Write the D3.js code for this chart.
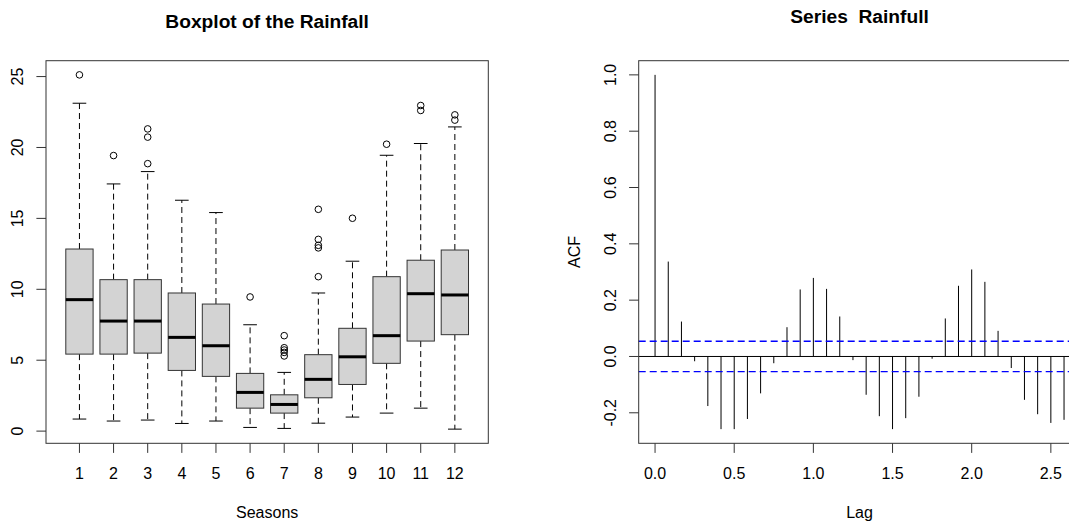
<!DOCTYPE html>
<html>
<head>
<meta charset="utf-8">
<script src="https://cdn.jsdelivr.net/npm/d3@7"></script>
<style>
  html, body { margin: 0; padding: 0; background: #fff; }
  svg { display: block; font-family: "Liberation Sans", Arial, sans-serif; }
</style>
</head>
<body>
<svg id="chart" width="1069" height="523"></svg>
<script>
// ---------- Data: boxplot of rainfall by season ----------
const seasons      = [1, 2, 3, 4, 5, 6, 7, 8, 9, 10, 11, 12];
const whiskerLow   = [0.85, 0.71, 0.78, 0.54, 0.71, 0.26, 0.19, 0.56, 0.99, 1.27, 1.62, 0.14];
const q1           = [5.43, 5.43, 5.50, 4.28, 3.86, 1.62, 1.27, 2.35, 3.29, 4.78, 6.35, 6.80];
const medians      = [9.27, 7.76, 7.76, 6.61, 6.02, 2.73, 1.88, 3.65, 5.24, 6.73, 9.69, 9.60];
const q3           = [12.84, 10.68, 10.68, 9.74, 8.96, 4.07, 2.56, 5.39, 7.25, 10.89, 12.05, 12.77];
const whiskerHigh  = [23.12, 17.43, 18.30, 16.28, 15.41, 7.50, 4.14, 9.74, 11.98, 19.45, 20.28, 21.45];
const outliers     = [
  [25.12],
  [19.43],
  [21.31, 20.73, 18.86],
  [],
  [],
  [9.46],
  [6.73, 5.88, 5.72, 5.55, 5.30],
  [15.64, 13.52, 13.10, 12.92, 10.89],
  [15.01],
  [20.23],
  [22.96, 22.61],
  [22.30, 21.93]
];
const boxYTicks = [0, 5, 10, 15, 20, 25];

// ---------- Data: ACF of rainfall (monthly series, lag in years) ----------
const acfValues = [1.000, 0.337, 0.124, -0.017, -0.176, -0.258, -0.258, -0.222, -0.131, -0.024,
                   0.104, 0.238, 0.279, 0.240, 0.142, -0.013, -0.136, -0.212, -0.258, -0.219,
                   -0.143, -0.008, 0.135, 0.251, 0.309, 0.265, 0.091, -0.041, -0.154, -0.205,
                   -0.236, -0.225];
const acfFrequency = 12;
const acfLags = acfValues.map((v, i) => i / acfFrequency);
const acfCI = 0.054;
const acfXTicks = [0, 0.5, 1.0, 1.5, 2.0, 2.5];
const acfYTicks = [-0.2, 0, 0.2, 0.4, 0.6, 0.8, 1.0];

// ---------- Layout ----------
const svg = d3.select("#chart");
const FS = 16;
const axisCol = "#333";
const plotTop = 60.7, plotBottom = 443.3;

function extend(lo, hi) { const e = (hi - lo) * 0.04; return [lo - e, hi + e]; }

// ================= Left: Boxplot =================
const L = { left: 46, right: 488.3 };
const allVals = whiskerLow.concat(whiskerHigh, outliers.flat());
const xL = d3.scaleLinear().domain(extend(0.5, seasons.length + 0.5)).range([L.left, L.right]);
const yL = d3.scaleLinear().domain(extend(d3.min(allVals), d3.max(allVals))).range([plotBottom, plotTop]);

const gL = svg.append("g");
const boxW = xL(1.4) - xL(1);   // half-width of box (boxwex 0.8)
const capW = boxW / 2;

seasons.forEach((s, i) => {
  const cx = xL(s);
  gL.append("line").attr("x1", cx).attr("x2", cx).attr("y1", yL(q3[i])).attr("y2", yL(whiskerHigh[i]))
    .attr("stroke", "#000").attr("stroke-width", 1).attr("stroke-dasharray", "6,4");
  gL.append("line").attr("x1", cx).attr("x2", cx).attr("y1", yL(q1[i])).attr("y2", yL(whiskerLow[i]))
    .attr("stroke", "#000").attr("stroke-width", 1).attr("stroke-dasharray", "6,4");
  [whiskerHigh[i], whiskerLow[i]].forEach(v => {
    gL.append("line").attr("x1", cx - capW).attr("x2", cx + capW).attr("y1", yL(v)).attr("y2", yL(v))
      .attr("stroke", "#000").attr("stroke-width", 1);
  });
  gL.append("rect").attr("x", cx - boxW).attr("width", 2 * boxW)
    .attr("y", yL(q3[i])).attr("height", yL(q1[i]) - yL(q3[i]))
    .attr("fill", "#d3d3d3").attr("stroke", "#333").attr("stroke-width", 1);
  gL.append("line").attr("x1", cx - boxW).attr("x2", cx + boxW).attr("y1", yL(medians[i])).attr("y2", yL(medians[i]))
    .attr("stroke", "#000").attr("stroke-width", 3);
  outliers[i].forEach(v => {
    gL.append("circle").attr("cx", cx).attr("cy", yL(v)).attr("r", 3.3)
      .attr("fill", "none").attr("stroke", "#000").attr("stroke-width", 1);
  });
});

gL.append("rect").attr("x", L.left).attr("y", plotTop).attr("width", L.right - L.left).attr("height", plotBottom - plotTop)
  .attr("fill", "none").attr("stroke", axisCol).attr("stroke-width", 1);

seasons.forEach(s => {
  gL.append("line").attr("x1", xL(s)).attr("x2", xL(s)).attr("y1", plotBottom).attr("y2", plotBottom + 9.6)
    .attr("stroke", axisCol);
  gL.append("text").attr("x", xL(s)).attr("y", 479).attr("text-anchor", "middle")
    .attr("font-size", FS).text(s);
});
boxYTicks.forEach(t => {
  gL.append("line").attr("x1", L.left).attr("x2", L.left - 9.6).attr("y1", yL(t)).attr("y2", yL(t)).attr("stroke", axisCol);
  gL.append("text").attr("transform", `translate(${L.left - 23},${yL(t)}) rotate(-90)`)
    .attr("text-anchor", "middle").attr("font-size", FS).text(t);
});
gL.append("text").attr("x", (L.left + L.right) / 2).attr("y", 27.5).attr("text-anchor", "middle")
  .attr("font-size", 19.2).attr("font-weight", "bold").text("Boxplot of the Rainfall");
gL.append("text").attr("x", (L.left + L.right) / 2).attr("y", 518.3).attr("text-anchor", "middle")
  .attr("font-size", FS).text("Seasons");

// ================= Right: ACF =================
const R = { left: 638.7 };
const xR = d3.scaleLinear().domain(extend(0, d3.max(acfLags))).range([R.left, 1080.4]);
const yR = d3.scaleLinear().domain(extend(Math.min(d3.min(acfValues), -acfCI), Math.max(d3.max(acfValues), acfCI)))
  .range([plotBottom, plotTop]);
const gR = svg.append("g");
const rRight = xR.range()[1];

gR.append("line").attr("x1", R.left).attr("x2", rRight).attr("y1", yR(0)).attr("y2", yR(0))
  .attr("stroke", "#000").attr("stroke-width", 1);
gR.selectAll("line.spike").data(acfValues).join("line").attr("class", "spike")
  .attr("x1", (d, i) => xR(acfLags[i])).attr("x2", (d, i) => xR(acfLags[i]))
  .attr("y1", yR(0)).attr("y2", d => yR(d))
  .attr("stroke", "#000").attr("stroke-width", 1);
[acfCI, -acfCI].forEach(c => {
  gR.append("line").attr("x1", R.left).attr("x2", rRight).attr("y1", yR(c)).attr("y2", yR(c))
    .attr("stroke", "#0000ff").attr("stroke-width", 1.3).attr("stroke-dasharray", "7,4");
});

gR.append("rect").attr("x", R.left).attr("y", plotTop).attr("width", rRight - R.left).attr("height", plotBottom - plotTop)
  .attr("fill", "none").attr("stroke", axisCol).attr("stroke-width", 1);

acfXTicks.forEach(t => {
  gR.append("line").attr("x1", xR(t)).attr("x2", xR(t)).attr("y1", plotBottom).attr("y2", plotBottom + 9.6).attr("stroke", axisCol);
  gR.append("text").attr("x", xR(t)).attr("y", 479).attr("text-anchor", "middle")
    .attr("font-size", FS).text(d3.format(".1f")(t));
});
acfYTicks.forEach(t => {
  gR.append("line").attr("x1", R.left).attr("x2", R.left - 9.6).attr("y1", yR(t)).attr("y2", yR(t)).attr("stroke", axisCol);
  gR.append("text").attr("transform", `translate(${R.left - 23},${yR(t)}) rotate(-90)`)
    .attr("text-anchor", "middle").attr("font-size", FS).text(d3.format(".1f")(t).replace("−", "-"));
});
gR.append("text").attr("x", (R.left + rRight) / 2).attr("y", 22.7).attr("text-anchor", "middle")
  .attr("font-size", 19.2).attr("font-weight", "bold").attr("xml:space", "preserve")
  .style("white-space", "pre").text("Series  Rainfull");
gR.append("text").attr("x", (R.left + rRight) / 2).attr("y", 518.3).attr("text-anchor", "middle")
  .attr("font-size", FS).text("Lag");
gR.append("text").attr("transform", `translate(${R.left - 58.7},${(plotTop + plotBottom) / 2}) rotate(-90)`)
  .attr("text-anchor", "middle").attr("font-size", FS).text("ACF");
</script>
</body>
</html>
